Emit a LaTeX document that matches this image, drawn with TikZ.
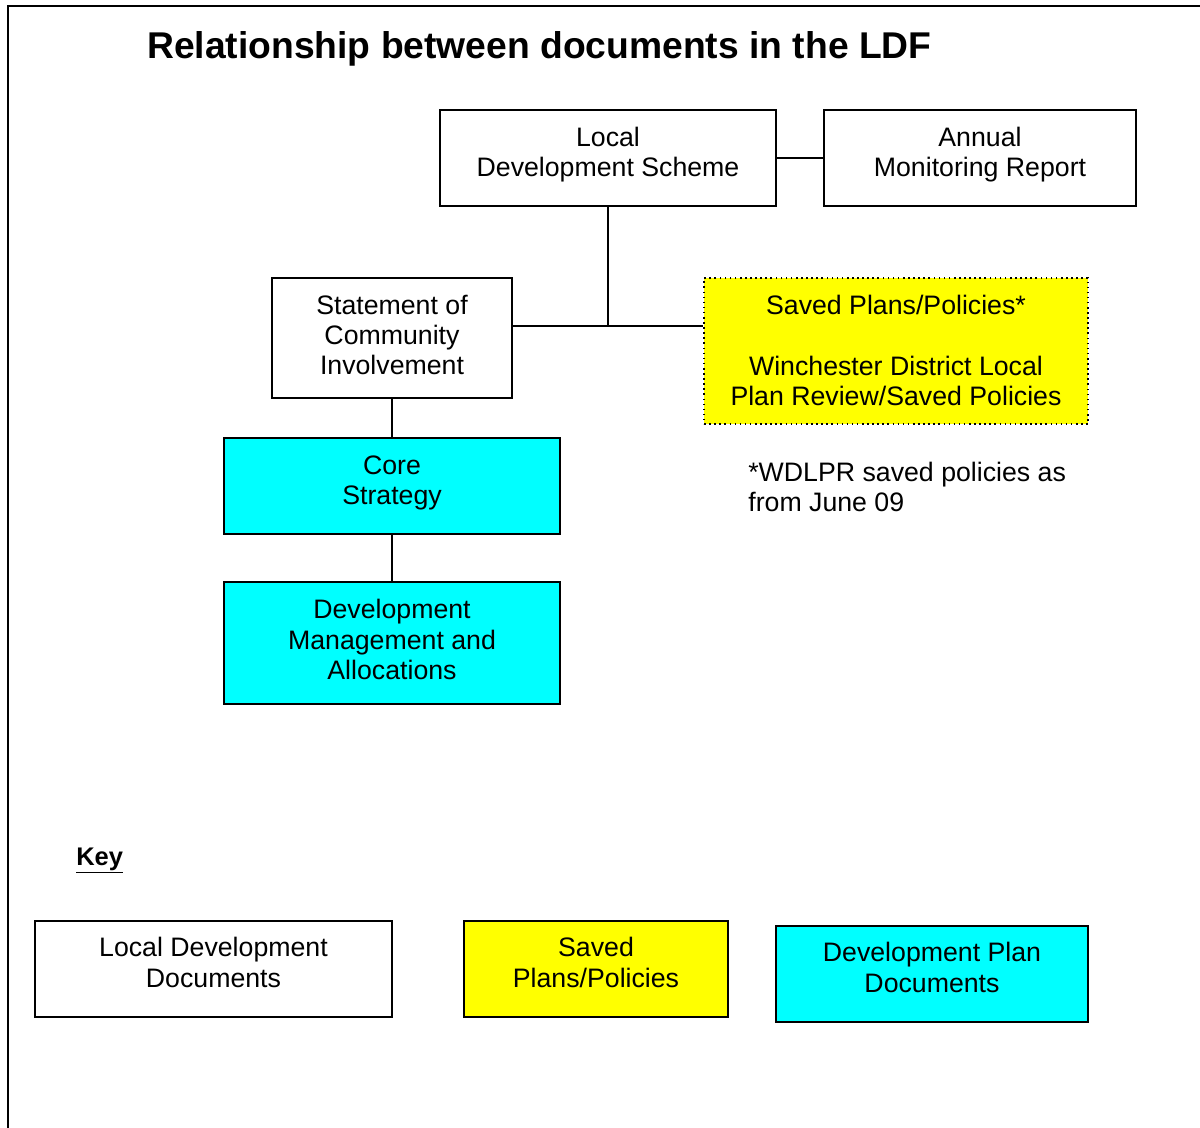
\documentclass[tikz,border=0pt]{standalone}
\usepackage{fontspec}
\setmainfont{Liberation Sans}
\usetikzlibrary{calc}
\definecolor{keycyan}{HTML}{00FFFF}
\definecolor{keyyellow}{HTML}{FFFF00}
\begin{document}
\begin{tikzpicture}[
        x=0.02cm, y=-0.02cm, % pixel grid of the original page
        doc/.style={draw, line width=0.9pt, align=center, inner sep=0pt,
            font=\fontsize{15.2}{17.2}\selectfont},
        ldd/.style={doc, fill=white},
        dpd/.style={doc, fill=keycyan},
        saved/.style={doc, fill=keyyellow},
        link/.style={draw, line width=0.9pt},
        frame/.style={draw, line width=1.6pt},
    ]
    \useasboundingbox (0,0) rectangle (1200,1128);
    \draw[frame] (8,1128) -- (8,6) -- (1200,6);

    % title
    \node[anchor=west, font=\bfseries\fontsize{21.2}{24}\selectfont] (title) at (141,49) {Relationship between documents in the LDF};

    % documents
    \node[ldd, text depth=7.4pt, minimum width=6.72cm, minimum height=1.92cm] (lds) at (608,158) {Local\\Development Scheme};
    \node[ldd, text depth=7.4pt, minimum width=6.24cm, minimum height=1.92cm] (amr) at (980,158) {Annual\\Monitoring Report};
    \node[ldd, text depth=3.5pt, minimum width=4.80cm, minimum height=2.40cm] (sci) at (392,338) {Statement of\\Community\\Involvement};
    \node[saved, text depth=0.7pt, dotted, line width=1.3pt, minimum width=7.68cm, minimum height=2.92cm] (spp) at (896,351) {Saved Plans/Policies*\\[17.2pt]Winchester District Local\\Plan Review/Saved Policies};
    \node[dpd, text depth=6.3pt, minimum width=6.72cm, minimum height=1.92cm] (core) at (392,486) {Core\\Strategy};
    \node[dpd, text depth=4.1pt, minimum width=6.72cm, minimum height=2.44cm] (dma) at (392,643) {Development\\Management and\\Allocations};
    \node[anchor=north west, align=left, inner sep=0pt, font=\fontsize{15.2}{17.2}\selectfont] (note) at (748,462) {*WDLPR saved policies as\\from June 09};

    % connectors
    \coordinate (jn) at (608,326);
    \path[link] (lds) -- (amr);
    \path[link] (lds) -- (jn);
    \path[link] (sci.east |- jn) -- (spp.west |- jn);
    \path[link] (sci) -- (core);
    \path[link] (core) -- (dma);

    % key
    \node[anchor=base west, inner sep=0pt, font=\bfseries\fontsize{14.5}{17.2}\selectfont] (key) at (76,865) {\underline{Key}};
    \node[ldd, text depth=7.5pt, minimum width=7.14cm, minimum height=1.92cm] (kldd) at (213.5,969) {Local Development\\Documents};
    \node[saved, text depth=7.5pt, minimum width=5.28cm, minimum height=1.92cm] (kspp) at (596,969) {Saved\\Plans/Policies};
    \node[dpd, text depth=7.5pt, minimum width=6.24cm, minimum height=1.92cm] (kdpd) at (932,974) {Development Plan\\Documents};
\end{tikzpicture}
\end{document}
